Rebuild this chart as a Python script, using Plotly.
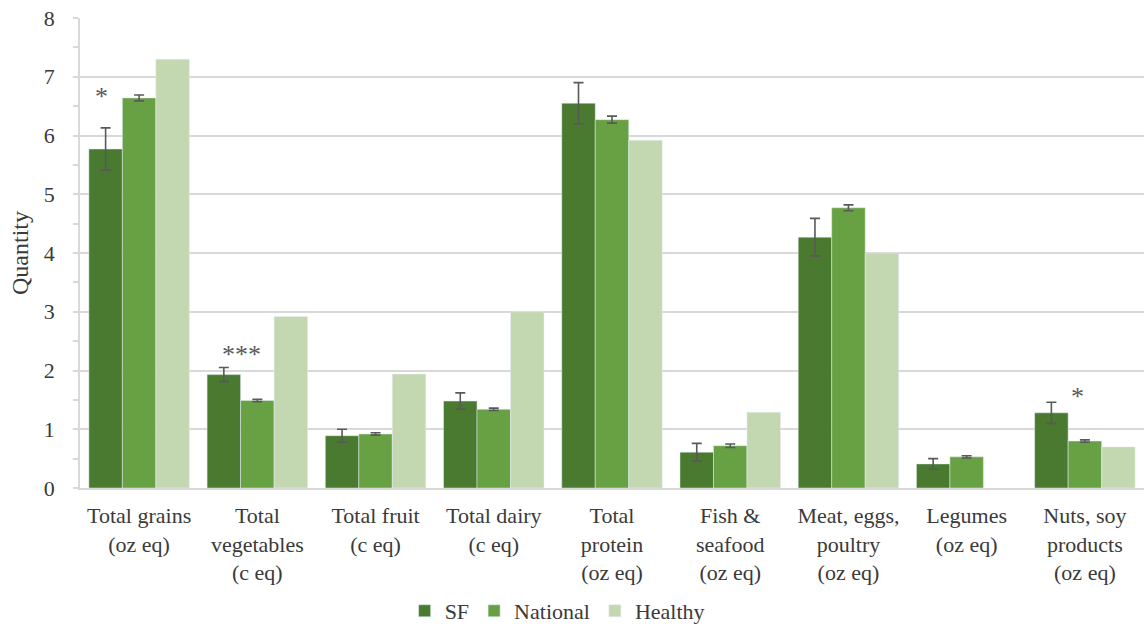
import plotly.graph_objects as go

categories = [
    "Total grains<br>(oz eq)",
    "Total<br>vegetables<br>(c eq)",
    "Total fruit<br>(c eq)",
    "Total dairy<br>(c eq)",
    "Total<br>protein<br>(oz eq)",
    "Fish &amp;<br>seafood<br>(oz eq)",
    "Meat, eggs,<br>poultry<br>(oz eq)",
    "Legumes<br>(oz eq)",
    "Nuts, soy<br>products<br>(oz eq)",
]
sf = [5.77, 1.93, 0.89, 1.48, 6.55, 0.61, 4.27, 0.41, 1.28]
sf_err = [0.36, 0.12, 0.11, 0.14, 0.35, 0.15, 0.32, 0.09, 0.18]
national = [6.64, 1.49, 0.92, 1.34, 6.27, 0.72, 4.77, 0.53, 0.80]
national_err = [0.05, 0.02, 0.02, 0.02, 0.06, 0.03, 0.05, 0.02, 0.02]
healthy = [7.30, 2.92, 1.94, 3.00, 5.92, 1.29, 4.00, None, 0.70]
series_names = ["SF", "National", "Healthy"]
colors = ["#4a7a2f", "#67a143", "#c3d8b1"]

FONT = "Liberation Serif"
TXT = "#3a3a3a"
ERRC = "#595959"

fig = go.Figure()
fig.add_trace(go.Bar(
    x=categories, y=sf, name=series_names[0], marker_color=colors[0],
    error_y=dict(type="data", array=sf_err, visible=True, color=ERRC, thickness=1.6, width=5),
))
fig.add_trace(go.Bar(
    x=categories, y=national, name=series_names[1], marker_color=colors[1],
    error_y=dict(type="data", array=national_err, visible=True, color=ERRC, thickness=1.6, width=5),
))
fig.add_trace(go.Bar(
    x=categories, y=healthy, name=series_names[2], marker_color=colors[2],
))

annotations = [
    dict(x=categories[0], y=6.66, text="*", xshift=-38),
    dict(x=categories[1], y=2.27, text="***", xshift=-16),
    dict(x=categories[8], y=1.55, text="*", xshift=-7),
]
for a in annotations:
    a.update(xref="x", yref="y", showarrow=False, yanchor="middle",
             font=dict(family=FONT, size=26, color=ERRC))

fig.update_layout(
    width=1144, height=626,
    margin=dict(l=80, r=0, t=18, b=138),
    paper_bgcolor="white", plot_bgcolor="white",
    barmode="group", bargap=0.15, bargroupgap=0,
    font=dict(family=FONT, color=TXT, size=22),
    annotations=annotations,
    showlegend=True,
    legend=dict(
        orientation="h", xref="container", yref="container",
        x=0.487, xanchor="center", y=0.024, yanchor="middle",
        font=dict(family=FONT, size=22, color=TXT),
        itemwidth=30, tracegroupgap=0,
    ),
)
fig.update_yaxes(
    range=[0, 8], dtick=1, showgrid=True, gridcolor="#d9d9d9", gridwidth=1.5,
    showline=True, linecolor="#d9d9d9", linewidth=1.5,
    ticks="outside", ticklen=5, tickcolor="#d9d9d9", tickwidth=1.5,
    minor=dict(dtick=0.5, ticks="outside", ticklen=5, tickcolor="#d9d9d9", tickwidth=1.5, showgrid=False),
    tickfont=dict(family=FONT, size=22, color=TXT),
    ticklabelstandoff=14,
    zeroline=False,
    title=dict(text="Quantity", font=dict(family=FONT, size=24, color=TXT), standoff=8),
)
fig.update_xaxes(
    showline=True, linecolor="#d9d9d9", linewidth=1.5,
    ticks="outside", ticklen=7, tickcolor="rgba(0,0,0,0)",
    tickfont=dict(family=FONT, size=22, color=TXT),
    tickangle=0,
)

fig.write_html("out.html")
